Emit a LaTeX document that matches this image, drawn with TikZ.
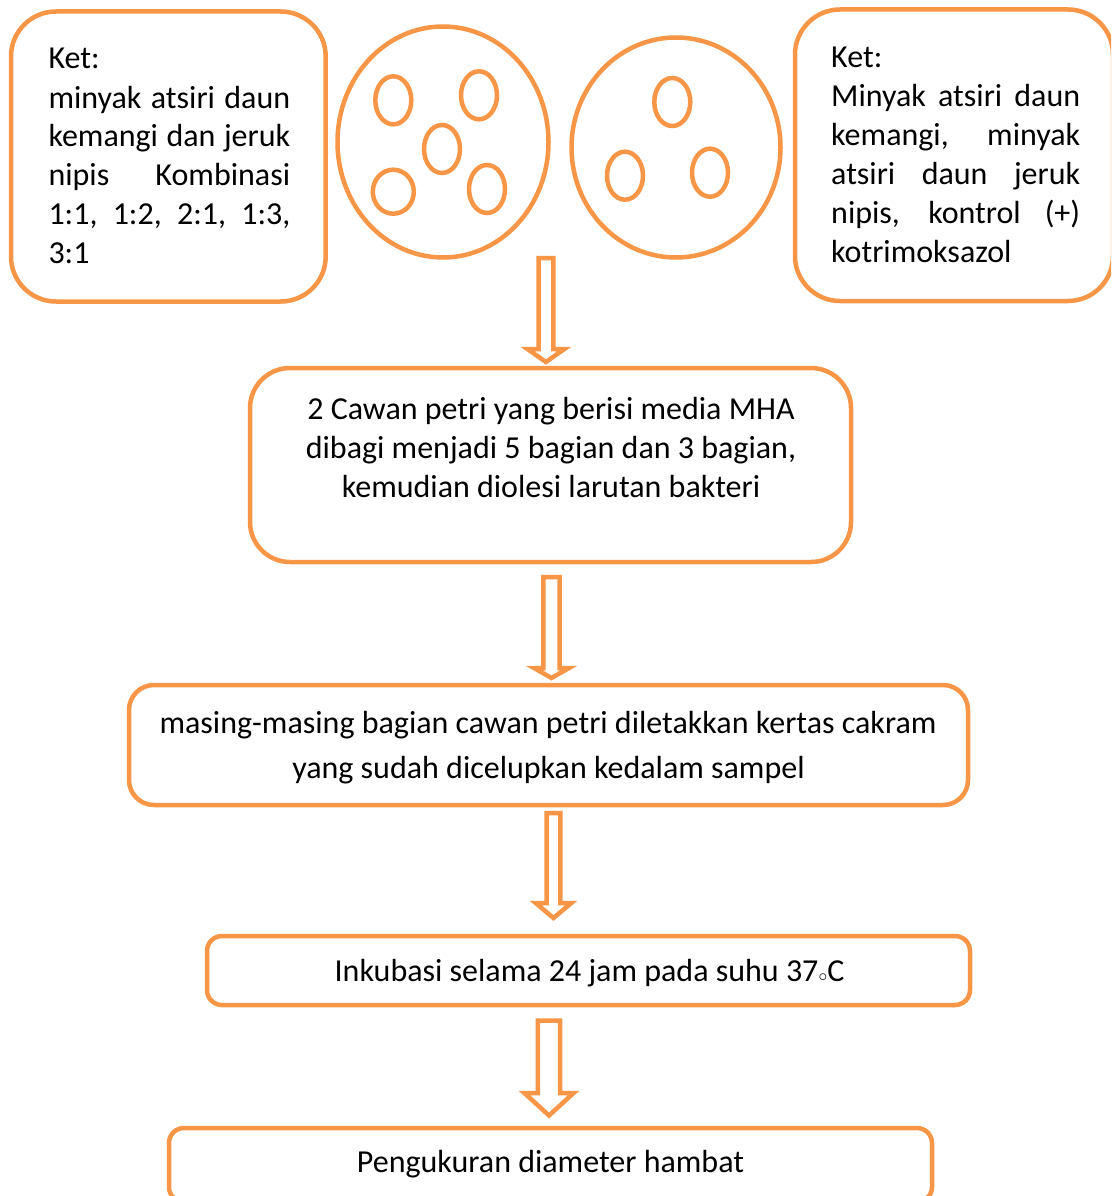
\documentclass[tikz,border=0pt]{standalone}
\usepackage{fontspec}
\setmainfont{Carlito}
\usetikzlibrary{shapes.geometric}
\definecolor{acc}{RGB}{247,150,70}
\newcommand\blockarrow[6]{%
  \draw[barrow] (#1-#5,#2) -- (#1+#5,#2) -- (#1+#5,#3) -- (#1+#6,#3) -- (#1,#4)
    -- (#1-#6,#3) -- (#1-#5,#3) -- cycle;}
\begin{document}
\begin{tikzpicture}[x=1pt,y=-1pt,
  box/.style={draw=acc, line width=4.5pt, fill=white, rectangle, inner sep=0pt},
  dish/.style={draw=acc, line width=4.5pt, ellipse, inner sep=0pt},
  disc/.style={draw=acc, line width=4.5pt, ellipse, inner sep=0pt, minimum width=36pt, minimum height=48pt},
  txt/.style={inner sep=0pt, font=\fontsize{32}{38.9}\selectfont, text=black},
  barrow/.style={draw=acc, line width=4.5pt, fill=white, line join=miter},
]
\useasboundingbox (0,0) rectangle (1111,1196);
\clip (0,0) rectangle (1111,1196);
\fill[white] (0,0) rectangle (1111,1196);

% top boxes
\node[box, minimum width=314.7pt, minimum height=290pt, rounded corners=45pt] (ketL) at (168.35,156.5) {};
\node[box, minimum width=318pt, minimum height=291.5pt, rounded corners=45pt] (ketR) at (954,155.25) {};

% petri dishes
\node[dish, minimum width=211pt, minimum height=231pt] (dishA) at (443,142) {};
\node[disc] (a1) at (393.3,100.3) {};
\node[disc] (a2) at (479,95.3) {};
\node[disc] (a3) at (442,149) {};
\node[disc, minimum width=41pt, minimum height=44pt] (a4) at (393.3,191.7) {};
\node[disc] (a5) at (487,189) {};
\node[dish, minimum width=209pt, minimum height=220pt] (dishB) at (676,147.5) {};
\node[disc] (b1) at (672.3,102) {};
\node[disc] (b2) at (625,175.7) {};
\node[disc] (b3) at (710,172.7) {};

% left text
\node[txt, anchor=base west] (l1) at (48.3,69) {Ket:};
\node[txt, anchor=base west] (l2) at (48.3,108.3) {\makebox[241.7pt][s]{minyak atsiri daun}};
\node[txt, anchor=base west] (l3) at (48.3,146.7) {\makebox[241.7pt][s]{kemangi dan jeruk}};
\node[txt, anchor=base west] (l4) at (48.3,185.7) {\makebox[241.7pt][s]{nipis Kombinasi}};
\node[txt, anchor=base west] (l5) at (48.3,224.3) {\makebox[241.7pt][s]{1:1, 1:2, 2:1, 1:3,}};
\node[txt, anchor=base west] (l6) at (48.3,263.3) {3:1};

% right text
\node[txt, anchor=base west] (r1) at (831,67.7) {Ket:};
\node[txt, anchor=base west] (r2) at (831,106.7) {\makebox[249pt][s]{Minyak atsiri daun}};
\node[txt, anchor=base west] (r3) at (831,145.7) {\makebox[249pt][s]{kemangi, minyak}};
\node[txt, anchor=base west] (r4) at (831,184.7) {\makebox[249pt][s]{atsiri daun jeruk}};
\node[txt, anchor=base west] (r5) at (831,223.7) {\makebox[249pt][s]{nipis, kontrol (+)}};
\node[txt, anchor=base west] (r6) at (831,262.7) {kotrimoksazol};

% flow boxes
\node[box, minimum width=601pt, minimum height=194pt, rounded corners=40pt] (s1) at (550.5,465) {};
\node[box, minimum width=839pt, minimum height=120pt, rounded corners=25pt] (s2) at (548.5,745) {};
\node[box, minimum width=763pt, minimum height=69pt, rounded corners=15pt] (s3) at (588.5,970.5) {};
\node[box, minimum width=763pt, minimum height=74pt, rounded corners=15pt] (s4) at (550.5,1165) {};

\node[txt, anchor=base] (t11) at (551,419.5) {2 Cawan petri yang berisi media MHA};
\node[txt, anchor=base] (t12) at (551,458) {dibagi menjadi 5 bagian dan 3 bagian,};
\node[txt, anchor=base] (t13) at (551,497) {kemudian diolesi larutan bakteri};
\node[txt, anchor=base] (t21) at (548,733) {masing-masing bagian cawan petri diletakkan kertas cakram};
\node[txt, anchor=base] (t22) at (548.5,778) {yang sudah dicelupkan kedalam sampel};
\node[txt, anchor=base] (t31) at (589.5,981) {Inkubasi selama 24 jam pada suhu 37\scalebox{0.7}{$\circ$}C};
\node[txt, anchor=base] (t41) at (550.5,1172) {Pengukuran diameter hambat};

% block arrows
\blockarrow{545.9}{258}{349}{362}{7.4}{18.5}
\blockarrow{551.5}{577}{668}{678}{8.2}{17.5}
\blockarrow{553.5}{813}{903}{918}{6.9}{17.8}
\blockarrow{549}{1020.5}{1093}{1115.5}{11.1}{24.6}
\end{tikzpicture}
\end{document}
